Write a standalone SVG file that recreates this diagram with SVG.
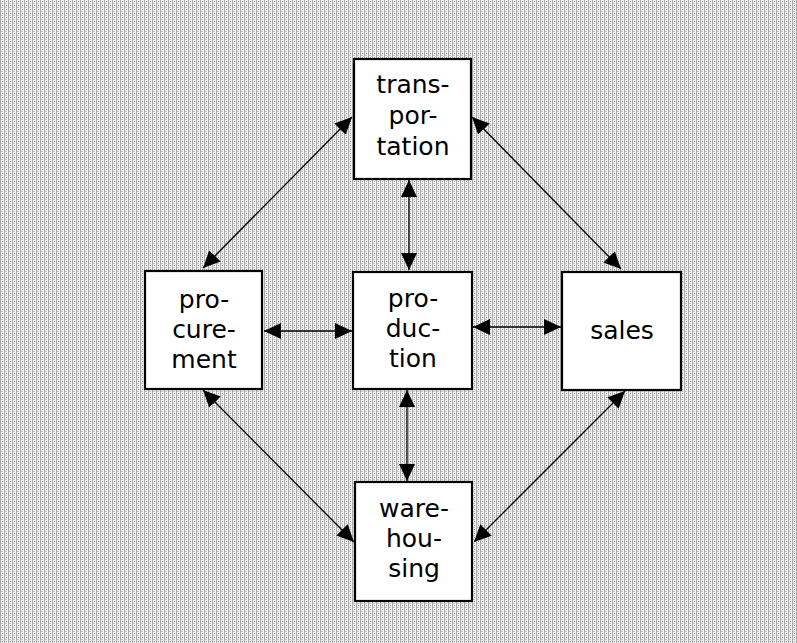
<svg xmlns="http://www.w3.org/2000/svg" width="797" height="643" viewBox="0 0 797 643">
<style>
.box{fill:#fff;stroke:#000;stroke-width:2.2}
.lbl{font-family:"DejaVu Sans","Noto Sans",sans-serif;font-size:25px;fill:#000;text-anchor:middle}
.con{stroke:#000;stroke-width:1.3;fill:none;marker-start:url(#ah);marker-end:url(#ah)}
</style>
<defs>
<marker id="ah" markerUnits="userSpaceOnUse" markerWidth="18" markerHeight="18" viewBox="0 0 18 18" refX="17" refY="9" orient="auto-start-reverse">
<path d="M0,1 L17,9 L0,17 Z" fill="#000"/>
</marker>
<pattern id="ht" width="4" height="4" patternUnits="userSpaceOnUse">
<rect width="4" height="4" fill="#f2f2f2"/>
<rect x="0" y="0" width="1" height="4" fill="#ababab"/>
<rect x="2" y="1" width="1" height="1" fill="#8c8c8c"/>
<rect x="1" y="3" width="2" height="1" fill="#c4c4c4"/>
</pattern>
</defs>
<rect width="797" height="643" fill="url(#ht)"/>
<g id="connectors">
<line class="con" x1="352" y1="117" x2="203" y2="268"/>
<line class="con" x1="472" y1="117" x2="621" y2="269"/>
<line class="con" x1="203" y1="390" x2="354" y2="542"/>
<line class="con" x1="625" y1="391" x2="474" y2="542"/>
<line class="con" x1="409" y1="180" x2="409" y2="270"/>
<line class="con" x1="407" y1="390" x2="407" y2="481"/>
<line class="con" x1="264" y1="331" x2="352" y2="331"/>
<line class="con" x1="473" y1="327" x2="561" y2="327"/>
</g>
<g id="transportation">
<rect class="box" x="354" y="59" width="117" height="120"/>
<text class="lbl" x="413" y="93">trans-</text>
<text class="lbl" x="413" y="124">por-</text>
<text class="lbl" x="413" y="155">tation</text>
</g>
<g id="procurement">
<rect class="box" x="145" y="271" width="117" height="118"/>
<text class="lbl" x="204" y="308">pro-</text>
<text class="lbl" x="204" y="338">cure-</text>
<text class="lbl" x="204" y="368">ment</text>
</g>
<g id="production">
<rect class="box" x="353" y="272" width="119" height="117"/>
<text class="lbl" x="413" y="307">pro-</text>
<text class="lbl" x="413" y="337">duc-</text>
<text class="lbl" x="413" y="367">tion</text>
</g>
<g id="sales">
<rect class="box" x="562" y="272" width="119" height="118"/>
<text class="lbl" x="622" y="339">sales</text>
</g>
<g id="warehousing">
<rect class="box" x="355" y="482" width="117" height="119"/>
<text class="lbl" x="414" y="517">ware-</text>
<text class="lbl" x="414" y="547">hou-</text>
<text class="lbl" x="414" y="577">sing</text>
</g>
</svg>
